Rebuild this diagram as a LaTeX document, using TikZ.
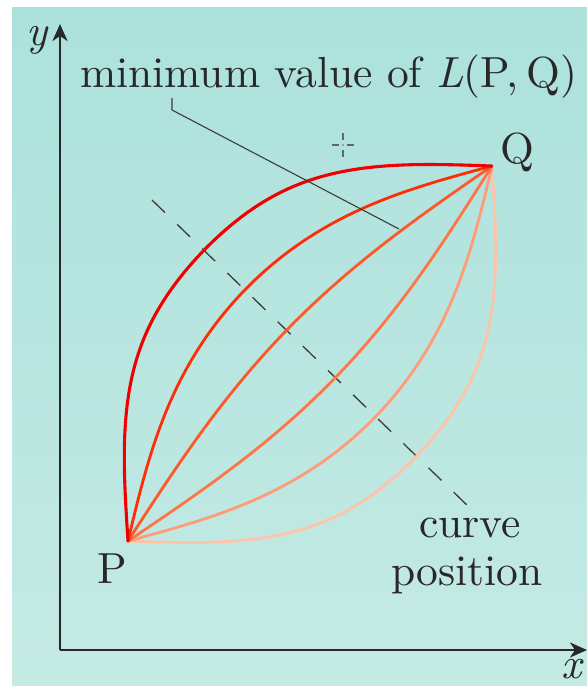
\documentclass[tikz,border=0pt]{standalone}
\usepackage{graphicx}
\usetikzlibrary{arrows.meta}
\definecolor{bgtop}{RGB}{172,225,220}
\definecolor{bgbot}{RGB}{197,234,228}
\definecolor{axisc}{RGB}{40,40,40}
\definecolor{linec}{RGB}{60,60,60}
\definecolor{cA}{RGB}{240,0,0}
\definecolor{cB}{RGB}{255,45,5}
\definecolor{cC}{RGB}{255,88,40}
\definecolor{cD}{RGB}{255,118,70}
\definecolor{cE}{RGB}{255,155,120}
\definecolor{cF}{RGB}{255,195,168}
\newcommand\bt[1]{\scalebox{4.35}{#1}}
% curve from P(128,541) to Q(492,166); offset from chord PQ: #2 sin(pi t) + #3 sin(3 pi t)
\newcommand\pqcurve[3]{\draw[#1] plot[domain=0:1,samples=160,variable=\t,smooth]
  ({128+364*\t-0.7176*((#2)*sin(180*\t)+(#3)*sin(540*\t))},
   {541-375*\t-0.6965*((#2)*sin(180*\t)+(#3)*sin(540*\t))});}
\begin{document}
\begin{tikzpicture}[x=1pt,y=-1pt,
  txt/.style={inner sep=0pt, font=\fontsize{10}{12}\selectfont, text=axisc},
  axisline/.style={line width=2.4pt, draw=axisc, -{Stealth[length=17pt,width=15pt,inset=5pt]}},
  curveline/.style={line width=2.8pt, line cap=round},
  leader/.style={line width=1.1pt, draw=linec},
  bisect/.style={line width=1.3pt, draw=linec, dash pattern=on 18pt off 17pt},
  crossmark/.style={line width=1.3pt, draw=gray!80!black}]
\useasboundingbox (0,0) rectangle (587,686);
\fill[top color=bgtop, bottom color=bgbot] (12,7) rectangle (587,686);
% axes
\coordinate (O) at (60,650);
\coordinate (ytip) at (60,24);
\coordinate (xtip) at (587,650);
\draw[axisline] (O) -- (ytip);
\draw[axisline] (O) -- (xtip);
\node[txt, anchor=base] (ylab) at (38,45) {\bt{\textit{y}}};
\node[txt, anchor=base] (xlab) at (573,678) {\bt{\textit{x}}};
% end points
\coordinate (P) at (128,541);
\coordinate (Q) at (492,166);
\node[txt, anchor=base] (Plab) at (112,583) {\bt{P}};
\node[txt, anchor=base] (Qlab) at (517,163) {\bt{Q}};
% bisector
\coordinate (ds) at (152,200);
\coordinate (de) at (470,508);
\draw[bisect] (ds) -- (de);
% curves
\pqcurve{curveline, draw=cF}{-157}{-9}
\pqcurve{curveline, draw=cE}{-93}{-2}
\pqcurve{curveline, draw=cD}{-35}{0}
\pqcurve{curveline, draw=cC}{33}{0}
\pqcurve{curveline, draw=cB}{93}{2}
\pqcurve{curveline, draw=cA, line width=3.1pt}{157}{9}
% labels
\node[txt, anchor=base west] (minlab) at (80,87) {\bt{minimum value of \textit{L}(P,\,Q)}};
\coordinate (lt) at (172,98);
\coordinate (lk) at (172,110);
\coordinate (le) at (399,229);
\draw[leader] (lt) -- (lk) -- (le);
\node[txt, anchor=base] (cv1) at (470,537) {\bt{curve}};
\node[txt, anchor=base] (cv2) at (467,585) {\bt{position}};
% small cross
\coordinate (cm) at (343,145);
\draw[crossmark] (343,133) -- (343,140) (343,150) -- (343,157)
  (332,145) -- (339,145) (347,145) -- (354,145);
\fill[gray!80!black] (cm) circle (0.8);
\end{tikzpicture}
\end{document}
